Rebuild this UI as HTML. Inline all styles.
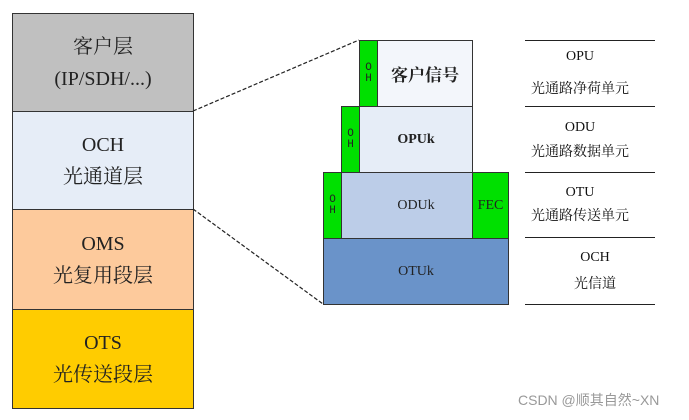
<!DOCTYPE html>
<html><head><meta charset="utf-8"><style>
body{margin:0;width:689px;height:420px;background:#fff;position:relative;overflow:hidden;font-family:"Liberation Serif","Noto Serif CJK SC",serif;}
.b{position:absolute;box-sizing:border-box;border:1px solid #333;display:flex;flex-direction:column;align-items:center;justify-content:center;text-align:center;color:#222;}
.l{font-size:20px;line-height:32px;}
.g{background:#00e000;font-size:11px;line-height:11px;font-family:"Liberation Mono",monospace;}
.t{position:absolute;text-align:center;font-size:14px;color:#111;line-height:16px;}
.h{position:absolute;left:525px;width:130px;height:0;border-top:1.5px solid #222;}
</style></head><body>
<div class="b l" style="left:12px;top:13px;width:182px;height:99px;background:#c0c0c0;"><div>客户层</div><div>(IP/SDH/...)</div></div>
<div class="b l" style="left:12px;top:111px;width:182px;height:99px;background:#e6edf7;"><div>OCH</div><div>光通道层</div></div>
<div class="b l" style="left:12px;top:209px;width:182px;height:101px;background:#fdca9c;"><div>OMS</div><div>光复用段层</div></div>
<div class="b l" style="left:12px;top:309px;width:182px;height:100px;background:#ffcc00;"><div>OTS</div><div>光传送段层</div></div>

<svg style="position:absolute;left:0;top:0" width="689" height="420">
<line x1="193" y1="111" x2="359" y2="40" stroke="#222" stroke-width="1.2" stroke-dasharray="4,2"/>
<line x1="193" y1="209" x2="323" y2="304" stroke="#222" stroke-width="1.2" stroke-dasharray="4,2"/>
</svg>

<div class="b" style="left:359px;top:40px;width:114px;height:67px;background:#f3f6fb;font-size:17px;font-weight:bold;padding-left:18px;">客户信号</div>
<div class="b g" style="left:359px;top:40px;width:19px;height:67px;">O<br>H</div>
<div class="b" style="left:341px;top:106px;width:132px;height:67px;background:#e6edf7;font-size:14px;font-weight:bold;padding-left:18px;">OPUk</div>
<div class="b g" style="left:341px;top:106px;width:19px;height:67px;">O<br>H</div>
<div class="b" style="left:323px;top:172px;width:186px;height:67px;background:#bccde8;font-size:14px;">ODUk</div>
<div class="b g" style="left:323px;top:172px;width:19px;height:67px;">O<br>H</div>
<div class="b g" style="left:472px;top:172px;width:37px;height:67px;font-family:'Liberation Serif',serif;font-size:14px;">FEC</div>
<div class="b" style="left:323px;top:238px;width:186px;height:67px;background:#6a93c9;font-size:14px;border-width:1.5px;">OTUk</div>

<div class="h" style="top:40px"></div>
<div class="h" style="top:106px"></div>
<div class="h" style="top:172px"></div>
<div class="h" style="top:237px"></div>
<div class="h" style="top:304px"></div>
<div class="t" style="left:520px;width:120px;top:49px">OPU</div>
<div class="t" style="left:520px;width:120px;top:82px">光通路净荷单元</div>
<div class="t" style="left:520px;width:120px;top:120px">ODU</div>
<div class="t" style="left:520px;width:120px;top:145px">光通路数据单元</div>
<div class="t" style="left:520px;width:120px;top:185px">OTU</div>
<div class="t" style="left:520px;width:120px;top:209px">光通路传送单元</div>
<div class="t" style="left:535px;width:120px;top:250px">OCH</div>
<div class="t" style="left:535px;width:120px;top:277px">光信道</div>

<div style="position:absolute;left:518px;top:390px;font-size:14px;color:#999;font-family:'Liberation Sans','Noto Sans CJK SC',sans-serif;white-space:nowrap;">CSDN @顺其自然~XN</div>
</body></html>
